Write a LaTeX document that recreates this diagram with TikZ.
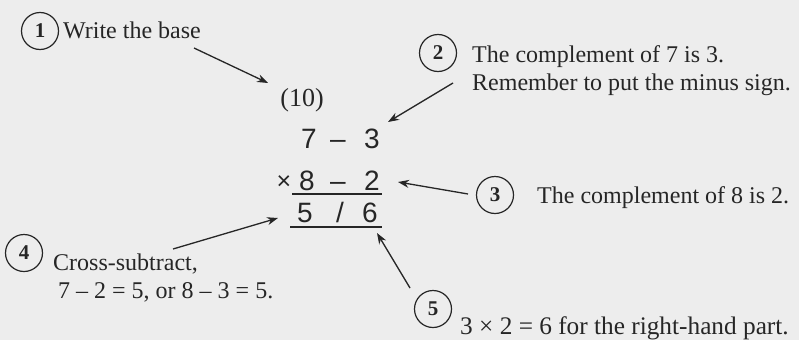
\documentclass[tikz,border=0pt]{standalone}
\usepackage{fontspec}
\setmainfont{Liberation Serif}
\newfontfamily\digitfont{Liberation Sans}
\usetikzlibrary{arrows.meta}

\begin{document}
\begin{tikzpicture}[x=1pt, y=-1pt, >={Stealth[length=11pt,width=8pt]},
    every node/.style={text=black!85},
    stepnum/.style={draw=black!85, circle, line width=1.2pt, minimum size=37pt, inner sep=0pt,
        font=\fontsize{21}{21}\selectfont\bfseries},
    note/.style={anchor=base west, inner sep=0pt, align=left, font=\fontsize{24}{28}\selectfont},
    digit/.style={anchor=base, inner sep=0pt, font=\digitfont\fontsize{28}{28}\selectfont},
    arr/.style={->, line width=1.3pt, draw=black!85}]
    % Page
    \fill[black!7] (0,0) rectangle (799,340);
    \useasboundingbox (0,0) rectangle (799,340);

    % Numbered steps
    \node[stepnum] (n1) at (40,31) {1};
    \node[stepnum] (n2) at (438,53) {2};
    \node[stepnum] (n3) at (495,195) {3};
    \node[stepnum] (n4) at (24,253) {4};
    \node[stepnum] (n5) at (433,309) {5};

    % Notes (two-line notes sit on the baseline of their last line)
    \node[note] (t1) at (63,38) {Write the base};
    \node[note] (t2) at (472,90) {The complement of 7 is 3.\\Remember to put the minus sign.};
    \node[note] (t3) at (537,203) {The complement of 8 is 2.};
    \node[note] (t4) at (53,298) {Cross-subtract,\\\hspace{5pt}7 – 2 = 5, or 8 – 3 = 5.};
    \node[note, font=\fontsize{25.3}{28}\selectfont] (t5) at (460,334) {3 × 2 = 6 for the right-hand part.};

    % The working
    \node[anchor=base, inner sep=0pt, font=\fontsize{26}{26}\selectfont] (base) at (302,106) {(10)};
    \node[digit] (a1) at (309,148) {7};
    \node[digit] (m1) at (338,148) {–};
    \node[digit] (b1) at (372,148) {3};
    \node[digit, font=\digitfont\fontsize{25}{25}\selectfont] (x) at (284,189) {×};
    \node[digit] (a2) at (307,190) {8};
    \node[digit] (m2) at (338,190) {–};
    \node[digit] (b2) at (372,190) {2};
    \node[digit] (left) at (305,222) {5};
    \node[digit] (bar) at (340,222) {/};
    \node[digit] (right) at (370,222) {6};
    \draw[line width=1.3pt, black!85] (292,194) -- (382,194);
    \draw[line width=1.3pt, black!85] (290,227) -- (382,227);

    % Arrow ends
    \coordinate (s1) at (194,48);   \coordinate (e1) at (268,83);
    \coordinate (s2) at (453,83);   \coordinate (e2) at (388,122);
    \coordinate (s3) at (468,194);  \coordinate (e3) at (398,182);
    \coordinate (s4) at (173,249);  \coordinate (e4) at (278,218);
    \coordinate (s5) at (410,288);  \coordinate (e5) at (377,233);

    % Arrows
    \draw[arr] (s1) -- (e1);
    \draw[arr] (s2) -- (e2);
    \draw[arr] (s3) -- (e3);
    \draw[arr] (s4) -- (e4);
    \draw[arr] (s5) -- (e5);
\end{tikzpicture}
\end{document}
